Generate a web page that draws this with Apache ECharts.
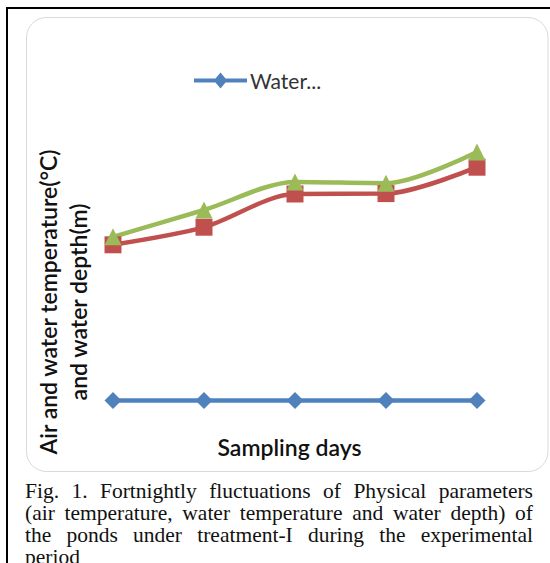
<!DOCTYPE html>
<html>
<head>
<meta charset="utf-8">
<script src="https://cdn.jsdelivr.net/npm/echarts@6/dist/echarts.min.js"></script>
<style>
  html, body { margin: 0; padding: 0; background: #fff; overflow: hidden; }
  #chart { position: absolute; left: 0; top: 0; width: 550px; height: 563px; }
  #caption { position: absolute; left: 25px; top: 480px; width: 508px;
    font-family: "Liberation Serif", "DejaVu Serif", serif; font-size: 21.5px; line-height: 22px; color: #111; }
  #caption div { text-align: justify; text-align-last: justify; white-space: nowrap; }
  #caption div.last { text-align-last: left; }
</style>
</head>
<body>
<div id="chart"></div>
<div id="caption">
  <div>Fig. 1. Fortnightly fluctuations of Physical parameters</div>
  <div>(air temperature, water temperature and water depth) of</div>
  <div>the ponds under treatment-I during the experimental</div>
  <div class="last">period</div>
</div>
<script>
// ---- data ----
const samplingDays = ['1', '2', '3', '4', '5'];
const seriesNames = ['Water depth (m)', 'Water temperature (°C)', 'Air temperature (°C)'];
const waterDepth = [2.44, 2.44, 2.44, 2.44, 2.44];
const waterTemperature = [21.9, 24.1, 28.25, 28.3, 31.6];
const airTemperature = [22.9, 26.25, 29.75, 29.6, 33.5];
const legendLabel = 'Water...';
const xAxisTitle = 'Sampling days';
const yAxisTitle = 'Air and water temperature(°C)\nand water depth(m)';

const chart = echarts.init(document.getElementById('chart'), null, { renderer: 'svg' });
const font = 'Lato, Carlito, "Open Sans", sans-serif';

chart.setOption({
  animation: false,
  backgroundColor: '#fff',
  textStyle: { fontFamily: font },
  graphic: [
    { type: 'rect', shape: { x: 6, y: 7, width: 2, height: 560 }, style: { fill: '#000' }, silent: true },
    { type: 'rect', shape: { x: 6, y: 7, width: 550, height: 2 }, style: { fill: '#000' }, silent: true },
    { type: 'rect', shape: { x: 26.5, y: 17.5, width: 521.5, height: 454, r: 20 },
      style: { fill: 'none', stroke: '#d9d9d9', lineWidth: 1 }, silent: true, z: -1 },
    { type: 'text', x: 63, y: 302, rotation: Math.PI / 2, silent: true,
      style: { text: yAxisTitle, align: 'center', verticalAlign: 'middle',
        fontFamily: font, fontSize: 23, fontWeight: 600, lineHeight: 30, fill: '#111' } }
  ],
  legend: {
    data: [seriesNames[0]],
    left: 189,
    top: 65,
    itemWidth: 53,
    itemHeight: 16,
    itemGap: 4,
    icon: 'path://M0,6 H21.5 L26.5,0 L31.5,6 H53 V10 H31.5 L26.5,16 L21.5,10 H0 Z',
    formatter: () => legendLabel,
    textStyle: { fontFamily: font, fontSize: 21, color: '#333', padding: [0, 0, 0, -2] }
  },
  grid: { left: 67.5, right: 27.5, top: 100, bottom: 143 },
  xAxis: {
    type: 'category',
    data: samplingDays,
    boundaryGap: true,
    name: xAxisTitle,
    nameLocation: 'middle',
    nameGap: 15,
    nameTextStyle: { fontFamily: font, fontSize: 23, fontWeight: 600, color: '#111', padding: [0, 11, 0, 0] },
    axisLine: { show: false },
    axisTick: { show: false },
    axisLabel: { show: false },
    splitLine: { show: false }
  },
  yAxis: {
    type: 'value',
    min: 0,
    max: 40,
    interval: 10,
    axisLine: { show: false },
    axisTick: { show: false },
    axisLabel: { show: false },
    splitLine: { show: false }
  },
  series: [
    { name: seriesNames[0], type: 'line', data: waterDepth, smooth: 0.3,
      symbol: 'diamond', symbolSize: 17, lineStyle: { width: 4.5, color: '#4F81BD' },
      itemStyle: { color: '#4F81BD' } },
    { name: seriesNames[1], type: 'line', data: waterTemperature, smooth: 0.3,
      symbol: 'rect', symbolSize: 17, lineStyle: { width: 4.5, color: '#C0504D' },
      itemStyle: { color: '#C0504D' } },
    { name: seriesNames[2], type: 'line', data: airTemperature, smooth: 0.3,
      symbol: 'triangle', symbolSize: 17, lineStyle: { width: 4.5, color: '#9BBB59' },
      itemStyle: { color: '#9BBB59' } }
  ]
});
</script>
</body>
</html>
